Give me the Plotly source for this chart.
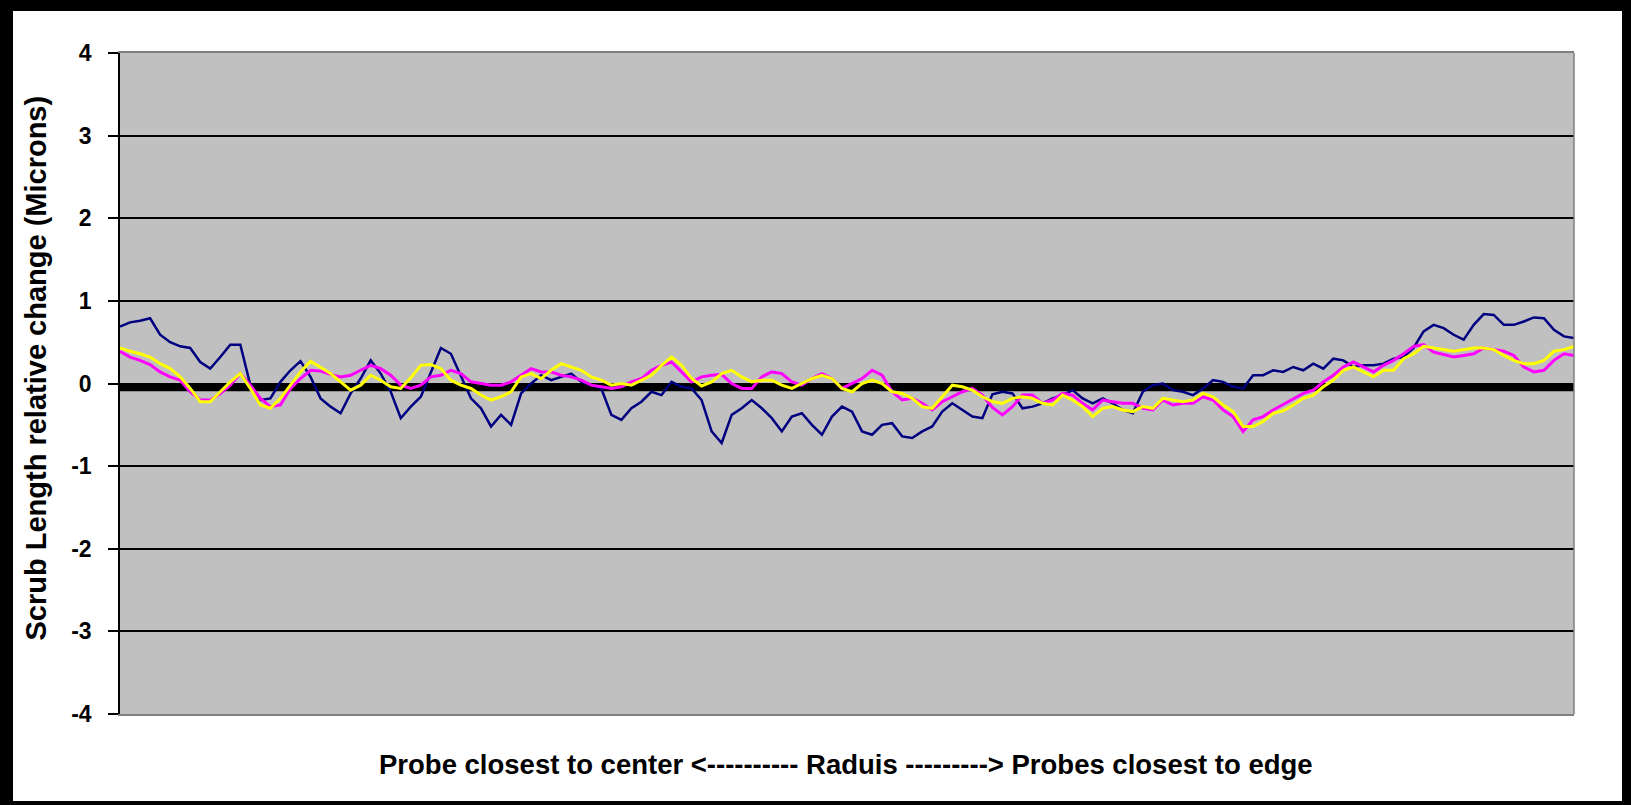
import plotly.graph_objects as go

# Probe positions along the radius (centre -> edge)
probe = list(range(1, 147))

# Scrub length relative change (microns) per probe, three runs
run_navy = [
    0.69, 0.74, 0.76, 0.79, 0.59, 0.50, 0.45, 0.43, 0.26, 0.18, 0.32, 0.47, 0.47, -0.02, -0.20,
    -0.18, 0.02, 0.16, 0.27, 0.08, -0.18, -0.28, -0.36, -0.12, 0.06, 0.28, 0.12, -0.10, -0.42,
    -0.28, -0.16, 0.14, 0.43, 0.36, 0.10, -0.18, -0.30, -0.52, -0.38, -0.50, -0.12, 0.00, 0.10, 0.04,
    0.08, 0.12, 0.02, -0.02, -0.06, -0.38, -0.44, -0.30, -0.22, -0.10, -0.14, 0.02, -0.04, -0.06,
    -0.20, -0.58, -0.72, -0.38, -0.30, -0.20, -0.30, -0.42, -0.58, -0.40, -0.36, -0.50, -0.62, -0.40, -0.28,
    -0.34, -0.58, -0.62, -0.50, -0.48, -0.64, -0.66, -0.58, -0.52, -0.34, -0.24, -0.32, -0.40, -0.42,
    -0.13, -0.10, -0.12, -0.30, -0.28, -0.24, -0.18, -0.14, -0.08, -0.18, -0.24, -0.18, -0.24, -0.32, -0.36,
    -0.10, -0.02, 0.00, -0.08, -0.10, -0.14, -0.06, 0.04, 0.02, -0.04, -0.06, 0.10, 0.10, 0.16,
    0.14, 0.20, 0.16, 0.24, 0.18, 0.30, 0.28, 0.20, 0.22, 0.22, 0.24, 0.30, 0.32, 0.43, 0.63,
    0.71, 0.67, 0.59, 0.53, 0.71, 0.84, 0.83, 0.71, 0.71, 0.75, 0.80, 0.79, 0.65, 0.57, 0.55,
]
run_magenta = [
    0.39, 0.32, 0.28, 0.23, 0.14, 0.08, 0.04, -0.10, -0.20, -0.20, -0.12, -0.02, 0.12, -0.02, -0.18,
    -0.28, -0.26, -0.06, 0.06, 0.16, 0.15, 0.11, 0.08, 0.10, 0.16, 0.22, 0.18, 0.10, -0.02,
    -0.06, -0.02, 0.08, 0.10, 0.16, 0.12, 0.02, 0.00, -0.02, -0.02, 0.02, 0.10, 0.18, 0.14, 0.14,
    0.10, 0.08, 0.04, -0.02, -0.04, -0.06, -0.04, 0.02, 0.06, 0.16, 0.22, 0.26, 0.14, 0.02,
    0.08, 0.10, 0.11, 0.00, -0.06, -0.06, 0.08, 0.14, 0.12, 0.02, -0.02, 0.06, 0.12, 0.06, -0.06,
    0.00, 0.06, 0.16, 0.10, -0.10, -0.20, -0.18, -0.24, -0.32, -0.22, -0.16, -0.10, -0.06, -0.14,
    -0.29, -0.38, -0.28, -0.14, -0.14, -0.24, -0.20, -0.12, -0.14, -0.24, -0.32, -0.20, -0.22, -0.24, -0.24,
    -0.30, -0.32, -0.20, -0.26, -0.24, -0.24, -0.16, -0.20, -0.32, -0.40, -0.58, -0.44, -0.40, -0.32,
    -0.25, -0.18, -0.12, -0.08, 0.02, 0.10, 0.20, 0.26, 0.20, 0.14, 0.22, 0.28, 0.36, 0.45, 0.47,
    0.38, 0.35, 0.32, 0.34, 0.36, 0.43, 0.41, 0.39, 0.34, 0.20, 0.14, 0.16, 0.28, 0.36, 0.34,
]
run_yellow = [
    0.43, 0.39, 0.36, 0.32, 0.24, 0.18, 0.08, -0.06, -0.22, -0.22, -0.10, 0.02, 0.12, -0.06, -0.26,
    -0.30, -0.18, -0.02, 0.14, 0.27, 0.20, 0.12, 0.02, -0.08, -0.02, 0.10, 0.04, -0.04, -0.06,
    0.07, 0.22, 0.23, 0.18, 0.04, -0.02, -0.06, -0.14, -0.20, -0.16, -0.10, 0.08, 0.12, 0.06, 0.16,
    0.24, 0.20, 0.16, 0.08, 0.04, -0.02, 0.00, -0.02, 0.04, 0.10, 0.22, 0.32, 0.22, 0.06,
    -0.03, 0.02, 0.12, 0.16, 0.08, 0.02, 0.04, 0.04, -0.02, -0.06, 0.00, 0.06, 0.10, 0.06, -0.06,
    -0.10, 0.00, 0.04, 0.00, -0.10, -0.12, -0.18, -0.28, -0.30, -0.16, -0.02, -0.04, -0.08, -0.16,
    -0.22, -0.24, -0.18, -0.16, -0.18, -0.24, -0.26, -0.14, -0.20, -0.28, -0.40, -0.30, -0.28, -0.32, -0.34,
    -0.28, -0.30, -0.18, -0.20, -0.22, -0.20, -0.12, -0.16, -0.26, -0.34, -0.52, -0.52, -0.46, -0.36,
    -0.33, -0.26, -0.18, -0.14, -0.04, 0.04, 0.16, 0.20, 0.14, 0.08, 0.16, 0.16, 0.30, 0.36, 0.45,
    0.43, 0.41, 0.39, 0.41, 0.43, 0.43, 0.41, 0.34, 0.28, 0.24, 0.24, 0.28, 0.39, 0.41, 0.45,
]

# Reference baseline drawn as a heavy black line
baseline_probe = [1, 146]
baseline_value = [-0.045, -0.045]

y_ticks = [-4, -3, -2, -1, 0, 1, 2, 3, 4]

FONT = "Liberation Sans, Arial, sans-serif"
W, H = 1631, 805
ML, MR, MT, MB = 120, 57, 53, 91
PW, PH = W - ML - MR, H - MT - MB


def px(xp):
    return (xp - ML) / PW


def py(yp):
    return (H - MB - yp) / PH


fig = go.Figure()
fig.add_trace(go.Scatter(x=baseline_probe, y=baseline_value, mode="lines",
                         line=dict(color="black", width=8), showlegend=False, hoverinfo="skip"))
fig.add_trace(go.Scatter(x=probe, y=run_navy, mode="lines",
                         line=dict(color="#000080", width=2.5), showlegend=False))
fig.add_trace(go.Scatter(x=probe, y=run_magenta, mode="lines",
                         line=dict(color="#FF00FF", width=3), showlegend=False))
fig.add_trace(go.Scatter(x=probe, y=run_yellow, mode="lines",
                         line=dict(color="#FFFF00", width=3), showlegend=False))

# Outer black frame around the white page
frame = [
    (-20, -20, 13, H + 20),
    (-20, -20, W + 20, 11),
    (1622, -20, W + 20, H + 20),
    (-20, 801, W + 20, H + 20),
]
shapes = []
for x0, y0, x1, y1 in frame:
    shapes.append(dict(type="rect", xref="paper", yref="paper",
                       x0=px(x0), x1=px(x1), y0=py(y1), y1=py(y0),
                       fillcolor="black", line=dict(width=0), layer="above"))
# Grey right edge of the plot area
shapes.append(dict(type="line", xref="paper", yref="paper", x0=1, x1=1, y0=0, y1=1,
                   line=dict(color="#808080", width=1.5), layer="above"))

fig.update_layout(
    width=W, height=H,
    margin=dict(l=ML, r=MR, t=MT, b=MB, pad=0),
    paper_bgcolor="white",
    plot_bgcolor="#C0C0C0",
    shapes=shapes,
    xaxis=dict(range=[1, 146], showgrid=False, zeroline=False, showticklabels=False,
               ticks="", showline=True, linecolor="#808080", linewidth=1.5, mirror=True),
    yaxis=dict(range=[-4, 4], tickvals=y_ticks, ticktext=[str(v) for v in y_ticks],
               showgrid=True, gridcolor="black", gridwidth=1.5, zeroline=False,
               showline=True, linecolor="black", linewidth=1.5,
               ticks="outside", ticklen=10, tickcolor="black", tickwidth=1.5,
               ticklabelstandoff=12,
               tickfont=dict(family=FONT, size=23, color="black", weight="bold")),
    annotations=[
        dict(text="Scrub Length relative change (Microns)", textangle=-90,
             xref="paper", yref="paper", x=px(35), y=py(368.5),
             xanchor="center", yanchor="middle", showarrow=False,
             font=dict(family=FONT, size=29, color="black", weight="bold")),
        dict(text="Probe closest to center <---------- Raduis ---------> Probes closest to edge",
             xref="paper", yref="paper", x=px(846), y=py(764),
             xanchor="center", yanchor="middle", showarrow=False,
             font=dict(family=FONT, size=27.5, color="black", weight="bold")),
    ],
)

fig.write_html("out.html")
